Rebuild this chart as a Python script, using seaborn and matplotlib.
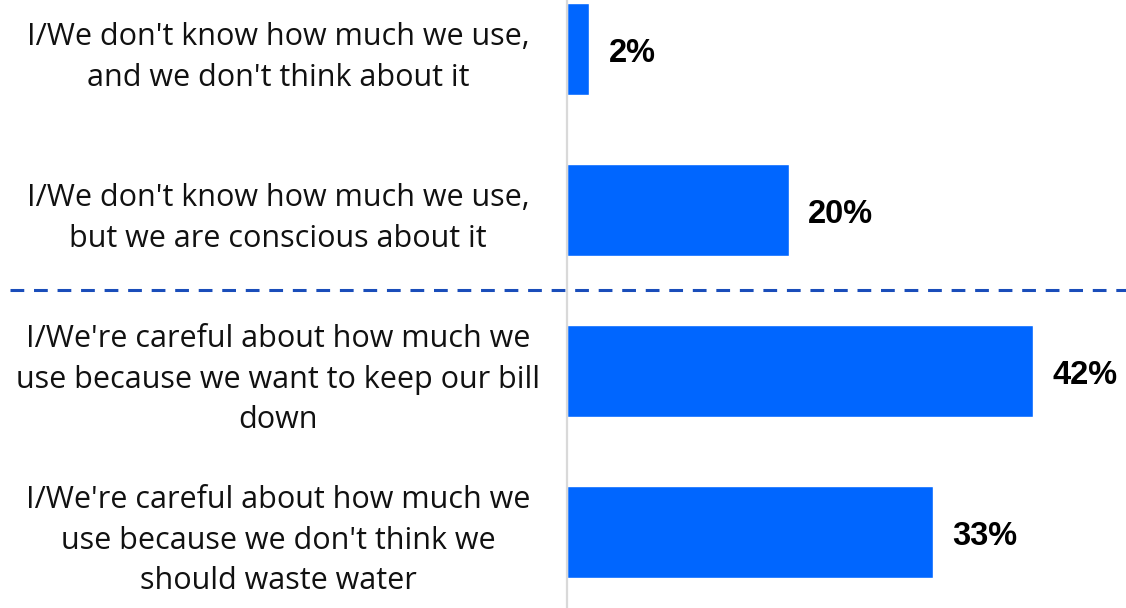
import matplotlib
matplotlib.use("Agg")
import matplotlib.pyplot as plt
import seaborn as sns
import pandas as pd

categories = [
    "I/We don't know how much we use,\nand we don't think about it",
    "I/We don't know how much we use,\nbut we are conscious about it",
    "I/We're careful about how much we\nuse because we want to keep our bill\ndown",
    "I/We're careful about how much we\nuse because we don't think we\nshould waste water",
]
values = [2, 20, 42, 33]
value_labels = ["2%", "20%", "42%", "33%"]

BAR_BLUE = "#0066FF"
DASH_BLUE = "#1A4DBA"

sns.set_style("white")
plt.rcParams["font.family"] = ["Open Sans", "DejaVu Sans"]

df = pd.DataFrame({"answer": categories, "share": values})

fig = plt.figure(figsize=(11.26, 6.08), dpi=100)
ax = fig.add_axes([567 / 1126, 0, 559 / 1126, 1])

sns.barplot(data=df, y="answer", x="share", orient="h", color=BAR_BLUE,
            saturation=1, width=0.57, ax=ax)

ax.set_xlim(0, 50.4)
ax.set_ylim(3.472, -0.304)
ax.set_xlabel("")
ax.set_ylabel("")
ax.set_xticks([])

for s in ["top", "right", "bottom"]:
    ax.spines[s].set_visible(False)
ax.spines["left"].set_color("#D9D9D9")
ax.spines["left"].set_linewidth(1.6)

ax.tick_params(axis="y", length=0, pad=208, labelsize=22, labelcolor="#111111")
for lbl in ax.get_yticklabels():
    lbl.set_ha("center")
    lbl.set_multialignment("center")
    lbl.set_linespacing(1.44)

# value annotations to the right of each bar
for i, (v, t) in enumerate(zip(values, value_labels)):
    ax.annotate(t, xy=(v, i), xytext=(14, -1), textcoords="offset points",
                ha="left", va="center_baseline", fontsize=23.5, fontweight="bold",
                color="#000000", family=["Liberation Sans", "DejaVu Sans"])

# dashed divider between the two groups of answers
ax.plot([-0.996, 1.0], [1.5, 1.5], transform=ax.get_yaxis_transform(),
        color=DASH_BLUE, linewidth=2.2, linestyle=(0, (4.5, 3.2)),
        clip_on=False)

fig.savefig("out.png", dpi=100)
